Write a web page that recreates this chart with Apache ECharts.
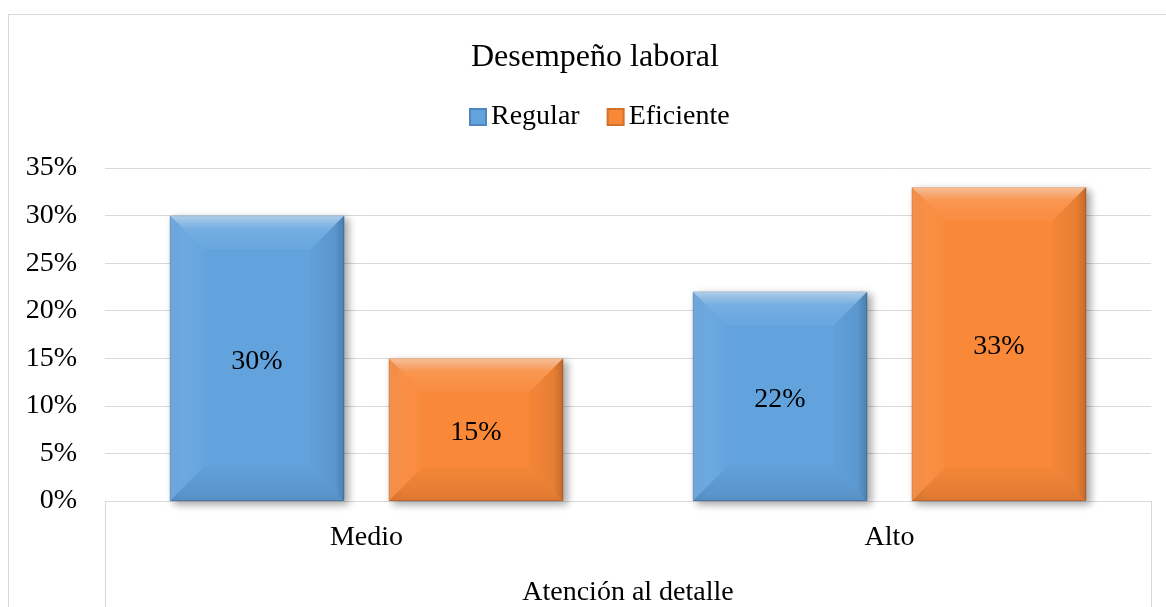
<!DOCTYPE html>
<html><head><meta charset="utf-8">
<script src="https://cdn.jsdelivr.net/npm/echarts@6/dist/echarts.min.js"></script>
<style>
html,body{margin:0;padding:0;background:#fff;overflow:hidden;}
#chart{position:absolute;left:0;top:0;width:1166px;height:607px;}
#frame{position:absolute;left:8px;top:14px;width:1200px;height:700px;border:1px solid #d9d9d9;pointer-events:none;}
</style></head>
<body><div id="chart"></div><div id="frame"></div>
<script>
const chartTitle = 'Desempeño laboral';
const categories = ['Medio', 'Alto'];
const groupLabels = ['Atención al detalle'];
const seriesNames = ['Regular', 'Eficiente'];
const regular = [30, 22];
const eficiente = [15, 33];
const yMin = 0, yMax = 35, yInterval = 5;

const FONT = "'Times New Roman','Liberation Serif',serif";
const BAR_FRAC = 0.3336;   // bar width as fraction of category band
const GAP_PCT = 0.255;     // gap between bars as fraction of bar width
const colors = ['#62a3de', '#f98838'];
const borders = ['#4f86bd', '#d2702c'];

function bevelRenderer(sIdx) {
  return function (params, api) {
    const ci = api.value(0), v = api.value(1);
    const p0 = api.coord([ci, 0]);
    const p1 = api.coord([ci, v]);
    const cw = api.size([1, 0])[0];
    const bw = cw * BAR_FRAC, gap = bw * GAP_PCT;
    const cx = p0[0] + (sIdx === 0 ? -1 : 1) * (bw + gap) / 2;
    const x0 = cx - bw / 2, x1 = cx + bw / 2, yT = p1[1], yB = p0[1];
    const h = yB - yT;
    const b = Math.min(34, h / 2, bw / 2);
    const LG = echarts.graphic.LinearGradient;
    return {
      type: 'group',
      children: [
        { type: 'polygon', shape: { points: [[x0, yT], [x1, yT], [x1 - b, yT + b], [x0 + b, yT + b]] },
          style: { fill: new LG(0, 0, 0, 1, [{ offset: 0, color: 'rgba(255,255,255,0.5)' }, { offset: 0.4, color: 'rgba(255,255,255,0.12)' }, { offset: 1, color: 'rgba(255,255,255,0.04)' }]) } },
        { type: 'polygon', shape: { points: [[x1, yT], [x1, yB], [x1 - b, yB - b], [x1 - b, yT + b]] },
          style: { fill: new LG(0, 0, 1, 0, [{ offset: 0, color: 'rgba(0,0,0,0.02)' }, { offset: 0.7, color: 'rgba(0,0,0,0.07)' }, { offset: 1, color: 'rgba(0,0,0,0.2)' }]) } },
        { type: 'polygon', shape: { points: [[x0, yB], [x1, yB], [x1 - b, yB - b], [x0 + b, yB - b]] },
          style: { fill: new LG(0, 0, 0, 1, [{ offset: 0, color: 'rgba(0,0,0,0.02)' }, { offset: 1, color: 'rgba(0,0,0,0.1)' }]) } },
        { type: 'polygon', shape: { points: [[x0, yT], [x0 + b, yT + b], [x0 + b, yB - b], [x0, yB]] },
          style: { fill: new LG(0, 0, 1, 0, [{ offset: 0, color: 'rgba(255,255,255,0.1)' }, { offset: 1, color: 'rgba(255,255,255,0.02)' }]) } }
      ]
    };
  };
}

const chart = echarts.init(document.getElementById('chart'));
const barData = [regular, eficiente];

const series = [];
barData.forEach((vals, i) => {
  series.push({
    name: seriesNames[i],
    type: 'bar',
    data: vals,
    barWidth: (BAR_FRAC * 100) + '%',
    barGap: (GAP_PCT * 100) + '%',
    z: 2,
    itemStyle: {
      color: colors[i],
      borderColor: borders[i],
      borderWidth: 1,
      shadowBlur: 8,
      shadowOffsetX: 4,
      shadowOffsetY: 3,
      shadowColor: 'rgba(0,0,0,0.35)'
    },
    label: {
      show: true, position: 'inside', formatter: '{c}%', offset: [0, 3],
      fontFamily: FONT, fontSize: 28, color: '#000'
    }
  });
});
barData.forEach((vals, i) => {
  series.push({
    name: seriesNames[i] + '-bevel',
    type: 'custom',
    renderItem: bevelRenderer(i),
    data: vals.map((v, k) => [k, v]),
    encode: { x: 0, y: 1 },
    silent: true,
    z: 3,
    tooltip: { show: false }
  });
});

chart.setOption({
  animation: false,
  title: {
    text: chartTitle, left: 466, top: 37,
    textStyle: { fontFamily: FONT, fontSize: 32, fontWeight: 'normal', color: '#000' }
  },
  legend: {
    data: seriesNames, left: 464, top: 98, icon: 'rect',
    itemWidth: 16, itemHeight: 16, itemGap: 27,
    textStyle: { fontFamily: FONT, fontSize: 28, color: '#000' }
  },
  grid: { left: 105, right: 15, top: 168, bottom: 106 },
  xAxis: [
    {
      type: 'category', data: categories,
      axisLine: { show: true, lineStyle: { color: '#d9d9d9', width: 1 } },
      axisTick: { show: false },
      axisLabel: { margin: 23, fontFamily: FONT, fontSize: 28, color: '#000' }
    },
    {
      type: 'category', data: groupLabels, position: 'bottom',
      axisLine: { show: false },
      axisTick: { show: true, length: 120, lineStyle: { color: '#d9d9d9', width: 1 } },
      axisLabel: { margin: 78, fontFamily: FONT, fontSize: 28, color: '#000' },
      splitLine: { show: false }
    }
  ],
  yAxis: {
    type: 'value', min: yMin, max: yMax, interval: yInterval,
    axisLine: { show: false }, axisTick: { show: false },
    axisLabel: { formatter: '{value}%', margin: 28, padding: [4, 0, 0, 0], fontFamily: FONT, fontSize: 28, color: '#000' },
    splitLine: { lineStyle: { color: '#d9d9d9', width: 1 } }
  },
  series: series
});
</script>
</body></html>
